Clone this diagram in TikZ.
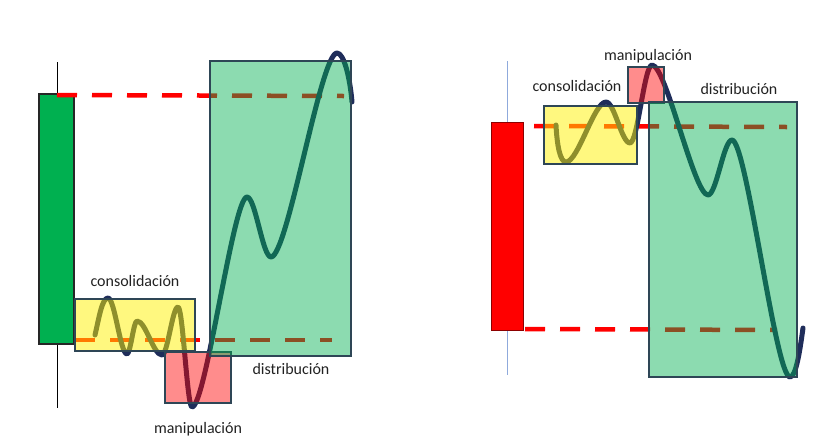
\documentclass[tikz,border=0pt]{standalone}
\usepackage{fontspec}
\setmainfont{Carlito}
\definecolor{navy}{HTML}{1F2D5A}
\definecolor{candlegreen}{HTML}{00B050}
\definecolor{candlered}{HTML}{FF0000}
\definecolor{boxedge}{HTML}{2E4656}
\definecolor{labelgrey}{HTML}{222222}
\definecolor{wickblue}{HTML}{8FAADC}
\tikzset{
  level/.style={draw=candlered, line width=4.5pt, dash pattern=on 20pt off 15pt},
  price/.style={draw=navy, line width=5pt, line cap=round, line join=round},
  zone/.style={draw=boxedge, line width=1.2pt, fill opacity=#1, draw opacity=1},
  zoneyellow/.style={zone=0.5, fill=yellow},
  zonered/.style={zone=0.45, fill=red},
  zonegreen/.style={zone=0.45, fill=candlegreen},
  lbl/.style={text=labelgrey, font=\fontsize{16}{19}\selectfont, inner sep=0pt},
}
\begin{document}
\begin{tikzpicture}[x=1pt,y=-1pt]
\useasboundingbox (0,0) rectangle (838,440);

% ---------- left panel ----------
\draw[black, line width=1pt] (57,62) -- (57,408);
\draw[draw=black!85, line width=1.1pt, fill=candlegreen] (39,94) rectangle (74,344);
\coordinate (lt1) at (57,95);  \coordinate (lt2) at (344,96);
\coordinate (lb1) at (75,340); \coordinate (lb2) at (332,340);
\draw[level] (lt1) -- (lt2);
\draw[level] (lb1) -- (lb2);

\draw[price] (95,335) .. controls (99,318) and (102,298) .. (108,298)
  .. controls (114.7,298) and (120.3,354) .. (127,354)
  .. controls (130.5,354) and (133.5,321) .. (137,321)
  .. controls (145.8,321) and (153.2,355) .. (162,355)
  .. controls (167.6,355) and (172.4,307) .. (178,307)
  .. controls (182.9,307) and (187.1,407) .. (192,407)
  .. controls (205.7,407) and (233.3,197) .. (247,197)
  .. controls (255.4,197) and (262.6,257) .. (271,257)
  .. controls (287.5,257) and (320.5,53) .. (337,53)
  .. controls (344,53) and (350,78) .. (352,102);

\draw[zoneyellow] (75,299) rectangle (195,351);
\draw[zonered] (165,352) rectangle (231,403);
\draw[zonegreen] (210,61) rectangle (351,356);

\node[lbl] (lcons) at (135,281) {consolidación};
\node[lbl] (ldist) at (291,369) {distribución};
\node[lbl] (lmani) at (198,429) {manipulación};

% ---------- right panel ----------
\draw[wickblue, line width=1pt] (507,61) -- (507,375);
\draw[draw=red!55!black, line width=0.8pt, fill=candlered] (491,122) rectangle (523,330);
\coordinate (rt1) at (534,126); \coordinate (rt2) at (787,127);
\coordinate (rb1) at (525,329); \coordinate (rb2) at (777,330);
\draw[level] (rt1) -- (rt2);
\draw[level] (rb1) -- (rb2);

\draw[price] (556,125) .. controls (557,145) and (560,162) .. (566,162)
  .. controls (578,162) and (594,102) .. (606,102)
  .. controls (614.4,102) and (621.6,143) .. (630,143)
  .. controls (637.7,143) and (644.3,65) .. (652,65)
  .. controls (666,65) and (694,195) .. (708,195)
  .. controls (716.4,195) and (723.6,140) .. (732,140)
  .. controls (746.5,140) and (775.5,377) .. (790,377)
  .. controls (796,377) and (800,350) .. (803,328);

\draw[zoneyellow] (544,106) rectangle (637,164);
\draw[zonered] (628,67) rectangle (664,103);
\draw[zonegreen] (649,102) rectangle (797,377);

\node[lbl] (rmani) at (648,56) {manipulación};
\node[lbl] (rcons) at (577,86) {consolidación};
\node[lbl] (rdist) at (739,89) {distribución};
\end{tikzpicture}
\end{document}
